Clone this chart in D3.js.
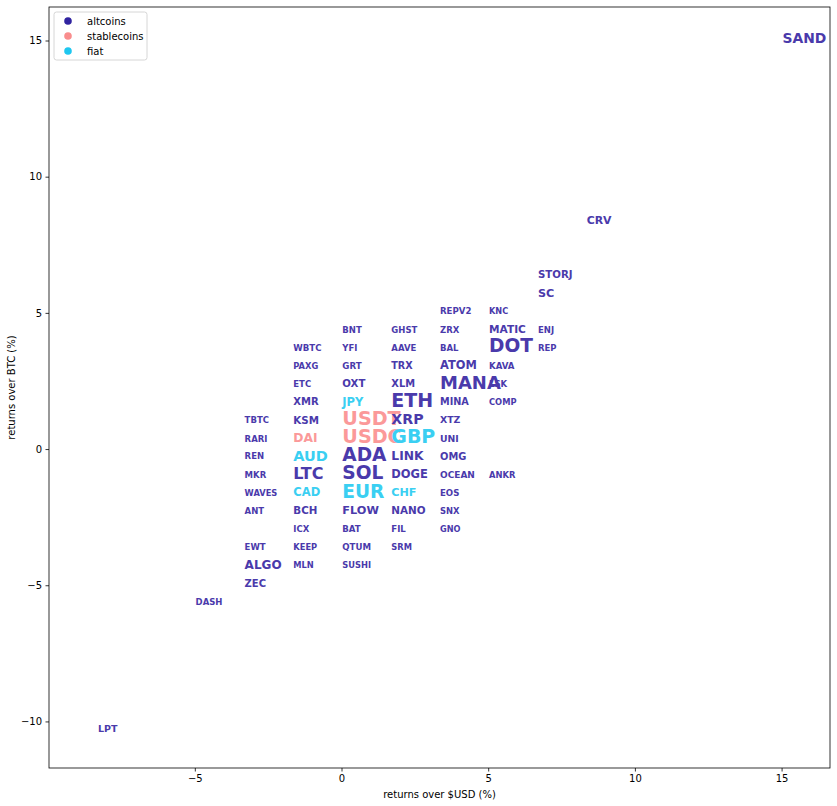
<!DOCTYPE html>
<html>
<head>
<meta charset="utf-8">
<script src="https://cdn.jsdelivr.net/npm/d3@7"></script>
<style>
  html, body { margin: 0; padding: 0; background: #fff; }
  svg { display: block; }
</style>
</head>
<body>
<div id="chart"></div>
<script>
// ---- data ----
const labels = [
  "LPT","DASH",
  "TBTC","RARI","REN","MKR","WAVES","ANT","EWT","ALGO","ZEC",
  "WBTC","PAXG","ETC","XMR","KSM","DAI","AUD","LTC","CAD","BCH","ICX","KEEP","MLN",
  "BNT","YFI","GRT","OXT","JPY","USDT","USDC","ADA","SOL","EUR","FLOW","BAT","QTUM","SUSHI",
  "GHST","AAVE","TRX","XLM","ETH","XRP","GBP","LINK","DOGE","CHF","NANO","FIL","SRM",
  "REPV2","ZRX","BAL","ATOM","LSK","MANA","MINA","XTZ","UNI","OMG","OCEAN","EOS","SNX","GNO",
  "KNC","MATIC","DOT","KAVA","COMP","ANKR",
  "STORJ","SC","ENJ","REP",
  "CRV","SAND"
];
const returnsUSD = [
  -8.33,-5.0,
  -3.33,-3.33,-3.33,-3.33,-3.33,-3.33,-3.33,-3.33,-3.33,
  -1.67,-1.67,-1.67,-1.67,-1.67,-1.67,-1.67,-1.67,-1.67,-1.67,-1.67,-1.67,-1.67,
  0,0,0,0,0,0,0,0,0,0,0,0,0,0,
  1.67,1.67,1.67,1.67,1.67,1.67,1.67,1.67,1.67,1.67,1.67,1.67,1.67,
  3.33,3.33,3.33,3.33,5.0,3.33,3.33,3.33,3.33,3.33,3.33,3.33,3.33,3.33,
  5.0,5.0,5.0,5.0,5.0,5.0,
  6.67,6.67,6.67,6.67,
  8.33,15.0
];
const returnsBTC = [
  -10.33,-5.67,
  1.0,0.33,-0.33,-1.0,-1.67,-2.33,-3.67,-4.33,-5.0,
  3.67,3.0,2.33,1.67,1.0,0.33,-0.33,-1.0,-1.67,-2.33,-3.0,-3.67,-4.33,
  4.33,3.67,3.0,2.33,1.67,1.0,0.33,-0.33,-1.0,-1.67,-2.33,-3.0,-3.67,-4.33,
  4.33,3.67,3.0,2.33,1.67,1.0,0.33,-0.33,-1.0,-1.67,-2.33,-3.0,-3.67,
  5.0,4.33,3.67,3.0,2.33,2.33,1.67,1.0,0.33,-0.33,-1.0,-1.67,-2.33,-3.0,
  5.0,4.33,3.67,3.0,1.67,-1.0,
  6.33,5.67,4.33,3.67,
  8.33,15.0
];
const groups = [
  "altcoins","altcoins",
  "altcoins","altcoins","altcoins","altcoins","altcoins","altcoins","altcoins","altcoins","altcoins",
  "altcoins","altcoins","altcoins","altcoins","altcoins","stablecoins","fiat","altcoins","fiat","altcoins","altcoins","altcoins","altcoins",
  "altcoins","altcoins","altcoins","altcoins","fiat","stablecoins","stablecoins","altcoins","altcoins","fiat","altcoins","altcoins","altcoins","altcoins",
  "altcoins","altcoins","altcoins","altcoins","altcoins","altcoins","fiat","altcoins","altcoins","fiat","altcoins","altcoins","altcoins",
  "altcoins","altcoins","altcoins","altcoins","altcoins","altcoins","altcoins","altcoins","altcoins","altcoins","altcoins","altcoins","altcoins","altcoins",
  "altcoins","altcoins","altcoins","altcoins","altcoins","altcoins",
  "altcoins","altcoins","altcoins","altcoins",
  "altcoins","altcoins"
];
const weights = [
  9.5,8.5,
  8.5,8.5,8.5,8.5,8.3,8.5,8.5,12,10,
  8.6,8.3,8.5,10,10.3,12.3,14.5,16,11.5,10.3,8.5,8.3,8.3,
  8.5,8.5,8.7,10.2,11.5,19.2,19.2,18.6,18.6,18.6,11.3,8.6,8.6,8.3,
  8.5,8.5,9.6,9.9,19,14.2,19,12.3,11.5,11.2,10.4,8.6,8.3,
  8.6,8.5,8.5,11.4,8.5,18,9.7,9.4,9.3,9.9,9.0,8.6,8.4,8.2,
  8.2,10.6,18.6,8.6,8.3,8.4,
  10.2,11.2,8.5,8.5,
  10.9,13.9
];
const categories = ["altcoins","stablecoins","fiat"];
const legendColors = ["#3023a0","#f98d8d","#1ec7f0"];
const textColors = ["#4a3aab","#fb9999","#3acff2"];
const xTicks = [-5,0,5,10,15];
const yTicks = [-10,-5,0,5,10,15];
const xDomain = [-9.97,16.65];
const yDomain = [-11.71,16.23];

// ---- chart ----
const W = 837, H = 806;
const M = {left: 49, right: 7, top: 7, bottom: 38};
const svg = d3.select("#chart").append("svg").attr("width", W).attr("height", H)
  .style("font-family", "'DejaVu Sans', sans-serif");

const x = d3.scaleLinear().domain(xDomain).range([M.left, W - M.right]);
const y = d3.scaleLinear().domain(yDomain).range([H - M.bottom, M.top]);
const colText = d3.scaleOrdinal().domain(categories).range(textColors);
const colLegend = d3.scaleOrdinal().domain(categories).range(legendColors);

const fmt = d => d3.format("d")(d).replace("-", "\u2212");

const gx = svg.append("g").attr("transform", `translate(0,${H - M.bottom})`)
  .call(d3.axisBottom(x).tickValues(xTicks).tickFormat(fmt).tickSize(3.5).tickPadding(3.5));
const gy = svg.append("g").attr("transform", `translate(${M.left},0)`)
  .call(d3.axisLeft(y).tickValues(yTicks).tickFormat(fmt).tickSize(3.5).tickPadding(3.5));
[gx, gy].forEach(g => {
  g.select(".domain").remove();
  g.selectAll(".tick line").attr("stroke", "#000").attr("stroke-width", 0.8);
  g.selectAll(".tick text").attr("fill", "#000").style("font-size", "10px")
    .style("font-family", "'DejaVu Sans', sans-serif");
});

// frame
svg.append("rect")
  .attr("x", M.left).attr("y", M.top)
  .attr("width", W - M.left - M.right).attr("height", H - M.top - M.bottom)
  .attr("fill", "none").attr("stroke", "#000").attr("stroke-width", 0.8);

// axis labels
svg.append("text").attr("x", (M.left + W - M.right) / 2).attr("y", 798)
  .attr("text-anchor", "middle").style("font-size", "10px").text("returns over $USD (%)");
svg.append("text")
  .attr("transform", `translate(15,${(M.top + H - M.bottom) / 2}) rotate(-90)`)
  .attr("text-anchor", "middle").style("font-size", "10px").text("returns over BTC (%)");

// labels as marks
const data = labels.map((l, i) => ({label: l, ux: returnsUSD[i], by: returnsBTC[i], g: groups[i], s: weights[i]}));
svg.append("g").selectAll("text").data(data).join("text")
  .attr("x", d => x(d.ux) + 0.8)
  .attr("y", d => y(d.by))
  .attr("dy", "0.17em")
  .attr("fill", d => colText(d.g))
  .style("font-weight", "bold")
  .style("font-size", d => d.s + "px")
  .text(d => d.label);

// legend
const lg = svg.append("g").attr("transform", "translate(54,12)");
lg.append("rect").attr("width", 93).attr("height", 48).attr("rx", 2.5)
  .attr("fill", "#fff").attr("fill-opacity", 0.8).attr("stroke", "#cccccc").attr("stroke-width", 0.8);
categories.forEach((c, i) => {
  lg.append("circle").attr("cx", 14).attr("cy", 9 + i * 15).attr("r", 3.8).attr("fill", colLegend(c));
  lg.append("text").attr("x", 33).attr("y", 9 + i * 15).attr("dy", "0.35em")
    .style("font-size", "10px").attr("fill", "#000").text(c);
});
</script>
</body>
</html>
